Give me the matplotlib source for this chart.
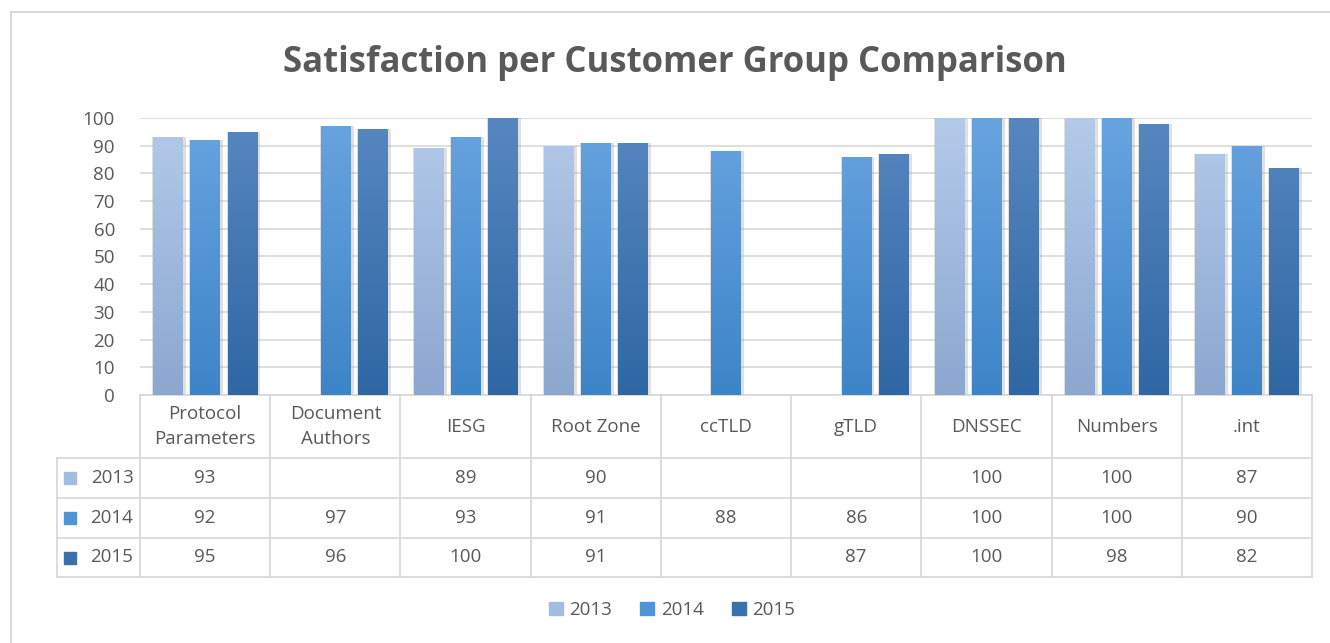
import numpy as np
import matplotlib
matplotlib.use("Agg")
import matplotlib.pyplot as plt
from matplotlib.colors import LinearSegmentedColormap
from matplotlib.patches import Rectangle
from matplotlib.transforms import blended_transform_factory

# data
categories = ["Protocol\nParameters", "Document\nAuthors", "IESG", "Root Zone", "ccTLD",
              "gTLD", "DNSSEC", "Numbers", ".int"]
years = ["2013", "2014", "2015"]
v2013 = [93, None, 89, 90, None, None, 100, 100, 87]
v2014 = [92, 97, 93, 91, 88, 86, 100, 100, 90]
v2015 = [95, 96, 100, 91, None, 87, 100, 98, 82]
series = [v2013, v2014, v2015]

# gradient (top, bottom) per series
grads = [("#B3CAEA", "#8CA7D0"), ("#68A4E0", "#3D84C8"), ("#5787C0", "#2E67A4")]
legend_cols = ["#A3BDE2", "#4F94D6", "#3A70AC"]
text_col = "#595959"
grid_col = "#D9D9D9"
fs = 13.5

plt.rcParams['font.family'] = ['Open Sans', 'DejaVu Sans']

fig = plt.figure(figsize=(13.3, 6.43), dpi=100)
W, H = 1330, 643
ax = fig.add_axes([140 / W, 1 - 395 / H, (1312 - 140) / W, (395 - 118) / H])

# chart border
fig.patches.append(Rectangle((11 / W, -0.05), 1.1, 1 - 12 / H + 0.05, transform=fig.transFigure,
                             fill=False, edgecolor=grid_col, linewidth=1.5))

x = np.arange(len(categories))
bw = 0.225
offs = [-0.285, 0.0, 0.285]

for i, vals in enumerate(series):
    h = [v if v is not None else 0 for v in vals]
    # soft shadow behind the bars
    ax.bar(x + offs[i] + 0.01, h, bw + 0.035, color="#9A9A9A", alpha=0.3, zorder=2, linewidth=0)
    bars = ax.bar(x + offs[i], h, bw, color="none", zorder=3, linewidth=0)
    cmap = LinearSegmentedColormap.from_list("g%d" % i, [grads[i][1], grads[i][0]])
    grad = np.linspace(0, 1, 256).reshape(-1, 1)
    for b in bars:
        if b.get_height() <= 0:
            continue
        im = ax.imshow(grad, cmap=cmap, origin="lower", aspect="auto", zorder=3,
                       extent=(b.get_x(), b.get_x() + b.get_width(), 0, 100))
        im.set_clip_path(b)

ax.set_xlim(-0.5, len(categories) - 0.5)
ax.set_ylim(0, 100)
ax.set_yticks(range(0, 101, 10))
ax.yaxis.grid(True, color=grid_col, linewidth=1.2, zorder=0)
ax.set_axisbelow(True)
ax.tick_params(axis="y", length=0, labelsize=fs, labelcolor=text_col, pad=18)
ax.set_xticks([])
for s in ax.spines.values():
    s.set_visible(False)

# data table under the axis
tr = blended_transform_factory(ax.transData, ax.transAxes)
ph = 395 - 118
row_y = [0, -(458 - 395) / ph, -(498 - 395) / ph, -(538 - 395) / ph, -(577 - 395) / ph]
left = -0.5 + (57 - 140) / ((1312 - 140) / len(categories))
right = len(categories) - 0.5

lkw = dict(color=grid_col, linewidth=1.3, transform=tr, clip_on=False)
ax.plot([-0.5, right], [row_y[0]] * 2, **lkw)
for yy in row_y[1:]:
    ax.plot([left, right], [yy] * 2, **lkw)
for k in range(len(categories) + 1):
    ax.plot([k - 0.5] * 2, [row_y[0], row_y[-1]], **lkw)
ax.plot([left] * 2, [row_y[1], row_y[-1]], **lkw)

for j, c in enumerate(categories):
    ax.text(j, (row_y[0] + row_y[1]) / 2, c, transform=tr, ha="center", va="center",
            fontsize=fs, color=text_col, linespacing=1.5)
for i, vals in enumerate(series):
    yc = (row_y[i + 1] + row_y[i + 2]) / 2
    ax.plot([left + 0.1], [yc], marker="s", markersize=9, color=legend_cols[i], transform=tr,
            clip_on=False, linestyle="none")
    ax.text(-0.5 - 0.05, yc, years[i], transform=tr, ha="right", va="center",
            fontsize=fs, color=text_col)
    for j, v in enumerate(vals):
        if v is not None:
            ax.text(j, yc, str(v), transform=tr, ha="center", va="center",
                    fontsize=fs, color=text_col)

fig.text(675 / W, 1 - 63 / H, "Satisfaction per Customer Group Comparison", ha="center",
         va="center", fontsize=25, fontweight="bold", color=text_col)

handles = [Rectangle((0, 0), 1, 1, color=c) for c in legend_cols]
fig.legend(handles, years, loc="center", bbox_to_anchor=(672 / W, 1 - 610 / H), ncol=3,
           frameon=False, fontsize=fs, labelcolor=text_col, handlelength=0.75,
           handleheight=0.75, handletextpad=0.35, columnspacing=1.5)

fig.savefig("out.png", dpi=100, facecolor="white")
